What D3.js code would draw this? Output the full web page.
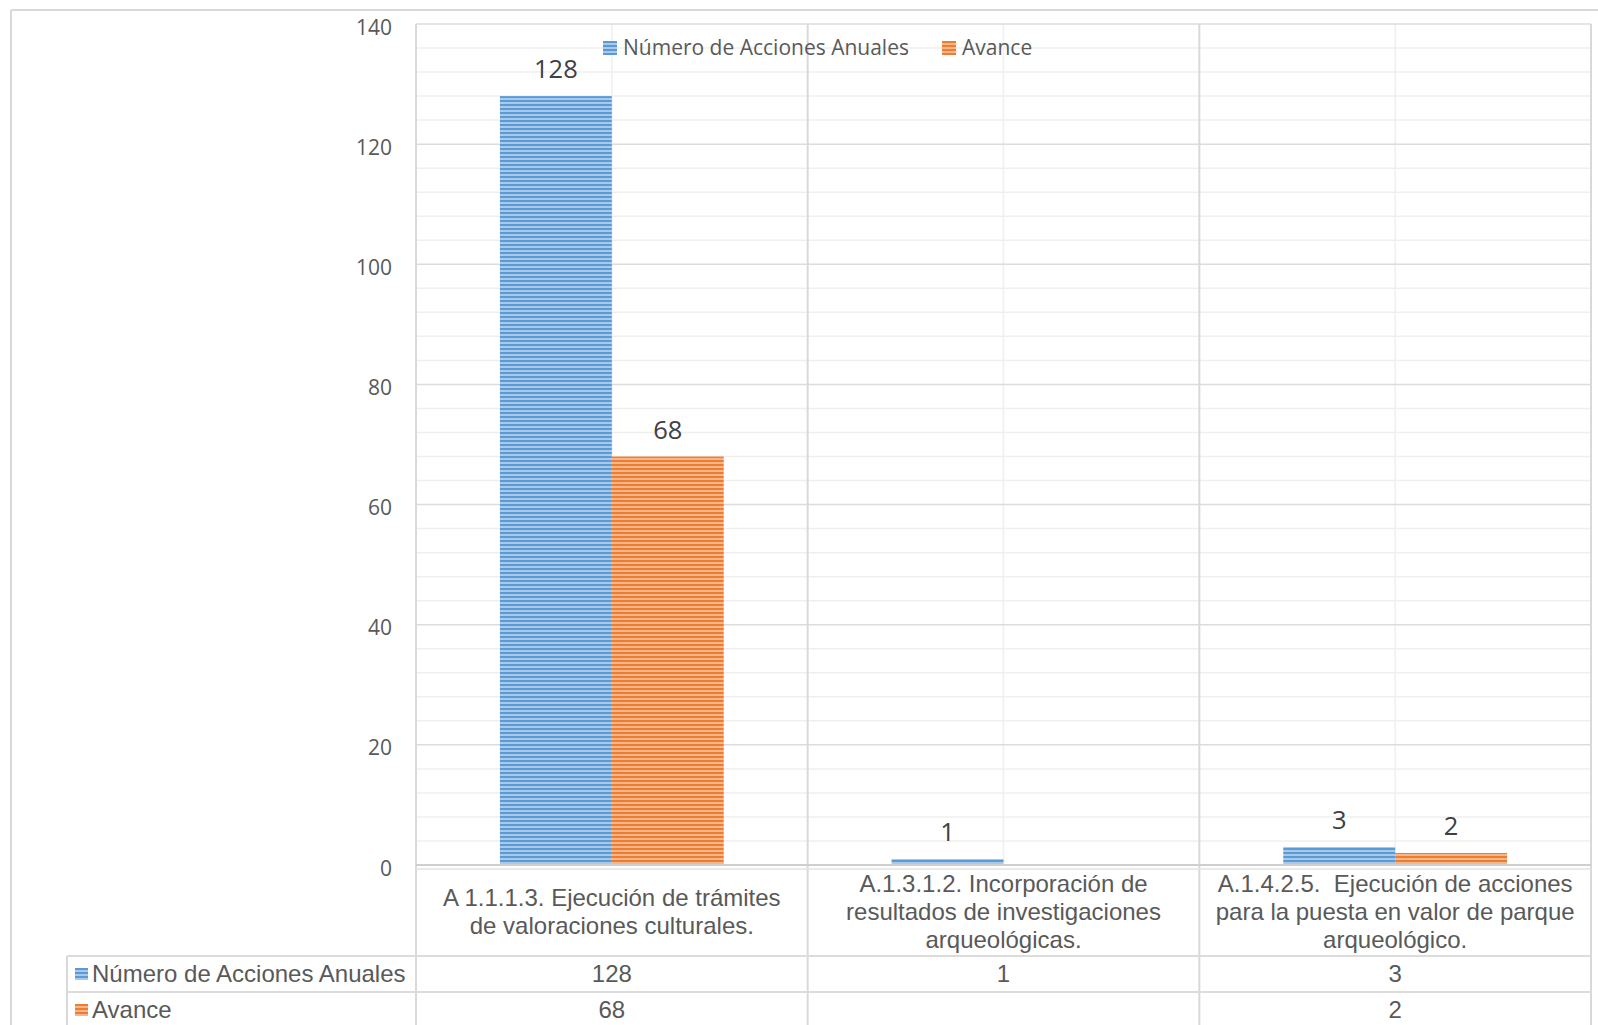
<!DOCTYPE html>
<html>
<head>
<meta charset="utf-8">
<script src="https://cdn.jsdelivr.net/npm/d3@7"></script>
<style>
  html, body { margin: 0; padding: 0; background: #ffffff; }
  svg { display: block; }
  text { white-space: pre; }
</style>
</head>
<body>
<svg id="chart" width="1598" height="1025"></svg>
<script>
// Activity categories (each entry is one wrapped label, line by line)
const categories = [
  "A 1.1.1.3. Ejecución de trámites de valoraciones culturales.",
  "A.1.3.1.2. Incorporación de resultados de investigaciones arqueológicas.",
  "A.1.4.2.5.  Ejecución de acciones para la puesta en valor de parque arqueológico."
];
const categoryLines = [
  ["A 1.1.1.3. Ejecución de trámites", "de valoraciones culturales."],
  ["A.1.3.1.2. Incorporación de", "resultados de investigaciones", "arqueológicas."],
  ["A.1.4.2.5.  Ejecución de acciones", "para la puesta en valor de parque", "arqueológico."]
];
const seriesNames = ["Número de Acciones Anuales", "Avance"];
const accionesAnuales = [128, 1, 3];
const avance = [68, null, 2];
const yTicks = [0, 20, 40, 60, 80, 100, 120, 140];

const series = [
  { name: seriesNames[0], values: accionesAnuales, key: "blue" },
  { name: seriesNames[1], values: avance, key: "orange" }
];

const svg = d3.select("#chart");
const W = 1598, H = 1025;
const plot = { left: 416, right: 1591, top: 24, bottom: 865 };
const tableRows = [956, 992, 1028];
const tableLeft = 67;
const tableFont = "'Liberation Sans', Arial, sans-serif";
const tableSize = 24;

const colors = {
  blue: { dark: "#5b9bd5", light: "#a9c9ea" },
  orange: { dark: "#ed7d31", light: "#f5b689" }
};

// Striped fills (narrow horizontal pattern)
const defs = svg.append("defs");
Object.entries(colors).forEach(([k, c]) => {
  const p = defs.append("pattern")
    .attr("id", "stripe-" + k)
    .attr("patternUnits", "userSpaceOnUse")
    .attr("width", 8).attr("height", 4);
  p.append("rect").attr("width", 8).attr("height", 4).attr("fill", c.light);
  p.append("rect").attr("y", 0).attr("width", 8).attr("height", 2).attr("fill", c.dark);
});

// Outer chart frame
svg.append("line").attr("x1", 11).attr("x2", W).attr("y1", 10).attr("y2", 10)
  .attr("stroke", "#d9d9d9").attr("stroke-width", 2);
svg.append("line").attr("x1", 11).attr("x2", 11).attr("y1", 10).attr("y2", H)
  .attr("stroke", "#d9d9d9").attr("stroke-width", 2);

const y = d3.scaleLinear().domain([0, 140]).range([plot.bottom, plot.top]);
const x = d3.scaleBand().domain(categories).range([plot.left, plot.right])
  .paddingInner(0).paddingOuter(0);

// Each group: two bars with a 150% gap width shared around them
const barW = x.bandwidth() / 3.5;
const xs = d3.scaleBand().domain(seriesNames)
  .range([0.75 * barW, 2.75 * barW]).padding(0);

// Minor horizontal gridlines
const minor = d3.range(0, 141, 4).filter(v => v % 20 !== 0);
svg.append("g").selectAll("line").data(minor).join("line")
  .attr("x1", plot.left).attr("x2", plot.right)
  .attr("y1", d => y(d)).attr("y2", d => y(d))
  .attr("stroke", "#efefef").attr("stroke-width", 1.5);

// Minor vertical gridlines at category centres
svg.append("g").selectAll("line").data(categories).join("line")
  .attr("x1", d => x(d) + x.bandwidth() / 2).attr("x2", d => x(d) + x.bandwidth() / 2)
  .attr("y1", plot.top).attr("y2", plot.bottom)
  .attr("stroke", "#efefef").attr("stroke-width", 1.5);

// Major horizontal gridlines
svg.append("g").selectAll("line").data(yTicks.filter(v => v > 0)).join("line")
  .attr("x1", plot.left).attr("x2", plot.right)
  .attr("y1", d => y(d)).attr("y2", d => y(d))
  .attr("stroke", "#dcdcdc").attr("stroke-width", 1.5);

// Major vertical gridlines at category boundaries (run through the data table)
const bounds = categories.map(c => x(c)).concat([plot.right]);
svg.append("g").selectAll("line").data(bounds).join("line")
  .attr("x1", d => d).attr("x2", d => d)
  .attr("y1", plot.top).attr("y2", H)
  .attr("stroke", "#d9d9d9").attr("stroke-width", 2);

// Y axis labels
const yAxis = d3.axisLeft(y).tickValues(yTicks).tickSize(0).tickPadding(24);
const gy = svg.append("g").attr("transform", `translate(${plot.left},0)`).call(yAxis);
gy.select(".domain").remove();
gy.selectAll("text")
  .attr("dy", "0.48em")
  .attr("font-family", "'Open Sans', sans-serif")
  .attr("font-size", 21).attr("fill", "#595959");

// Bars
series.forEach(s => {
  const g = svg.append("g");
  const data = categories.map((c, i) => ({ c, v: s.values[i] })).filter(d => d.v != null);
  g.selectAll("rect").data(data).join("rect")
    .attr("x", d => x(d.c) + xs(s.name))
    .attr("width", xs.bandwidth())
    .attr("y", d => y(d.v))
    .attr("height", d => y(0) - y(d.v))
    .attr("fill", `url(#stripe-${s.key})`);
  g.selectAll("text").data(data).join("text")
    .attr("x", d => x(d.c) + xs(s.name) + xs.bandwidth() / 2)
    .attr("y", d => y(d.v) - 18)
    .attr("text-anchor", "middle")
    .attr("font-family", "'Open Sans', sans-serif")
    .attr("font-size", 25.5).attr("fill", "#404040")
    .text(d => d.v);
});

// Axis line and data-table frame
svg.append("line").attr("x1", plot.left).attr("x2", plot.right)
  .attr("y1", plot.bottom).attr("y2", plot.bottom)
  .attr("stroke", "#cfcfcf").attr("stroke-width", 2);
svg.append("line").attr("x1", plot.left).attr("x2", plot.right)
  .attr("y1", plot.bottom + 4).attr("y2", plot.bottom + 4)
  .attr("stroke", "#e3e3e3").attr("stroke-width", 1.5);
svg.append("g").selectAll("line").data(tableRows).join("line")
  .attr("x1", tableLeft).attr("x2", plot.right)
  .attr("y1", d => d).attr("y2", d => d)
  .attr("stroke", "#dcdcdc").attr("stroke-width", 2);
svg.append("line").attr("x1", tableLeft).attr("x2", tableLeft)
  .attr("y1", tableRows[0]).attr("y2", H)
  .attr("stroke", "#d9d9d9").attr("stroke-width", 2);

// Category labels in the table header row
const headMid = (plot.bottom + tableRows[0]) / 2 + 1;
const lineH = 28;
const catG = svg.append("g");
categories.forEach((c, i) => {
  const lines = categoryLines[i];
  const t = catG.append("text")
    .attr("text-anchor", "middle")
    .attr("font-family", tableFont)
    .attr("font-size", tableSize).attr("fill", "#595959");
  lines.forEach((ln, j) => {
    t.append("tspan")
      .attr("x", x(c) + x.bandwidth() / 2)
      .attr("y", headMid + (j - (lines.length - 1) / 2) * lineH)
      .attr("dy", "0.35em")
      .text(ln);
  });
});

// Data table rows
series.forEach((s, r) => {
  const top = tableRows[r], bot = tableRows[r + 1], mid = (top + bot) / 2;
  svg.append("rect").attr("x", 75).attr("y", mid - 6).attr("width", 13).attr("height", 12)
    .attr("fill", `url(#stripe-${s.key})`);
  svg.append("text").attr("x", 92).attr("y", mid).attr("dy", "0.35em")
    .attr("font-family", tableFont)
    .attr("font-size", tableSize).attr("fill", "#595959")
    .text(s.name);
  svg.append("g").selectAll("text")
    .data(categories.map((c, i) => ({ c, v: s.values[i] })).filter(d => d.v != null))
    .join("text")
    .attr("x", d => x(d.c) + x.bandwidth() / 2)
    .attr("y", mid).attr("dy", "0.35em")
    .attr("text-anchor", "middle")
    .attr("font-family", tableFont)
    .attr("font-size", tableSize).attr("fill", "#595959")
    .text(d => d.v);
});

// Legend
const legend = svg.append("g").attr("transform", "translate(603,41)");
const legendX = [0, 339];
series.forEach((s, i) => {
  const g = legend.append("g").attr("transform", `translate(${legendX[i]},0)`);
  g.append("rect").attr("width", 14).attr("height", 14).attr("fill", `url(#stripe-${s.key})`);
  g.append("text").attr("x", 20).attr("y", 7).attr("dy", "0.35em")
    .attr("font-family", "'Open Sans', sans-serif")
    .attr("font-size", 21).attr("fill", "#595959")
    .text(s.name);
});
</script>
</body>
</html>
